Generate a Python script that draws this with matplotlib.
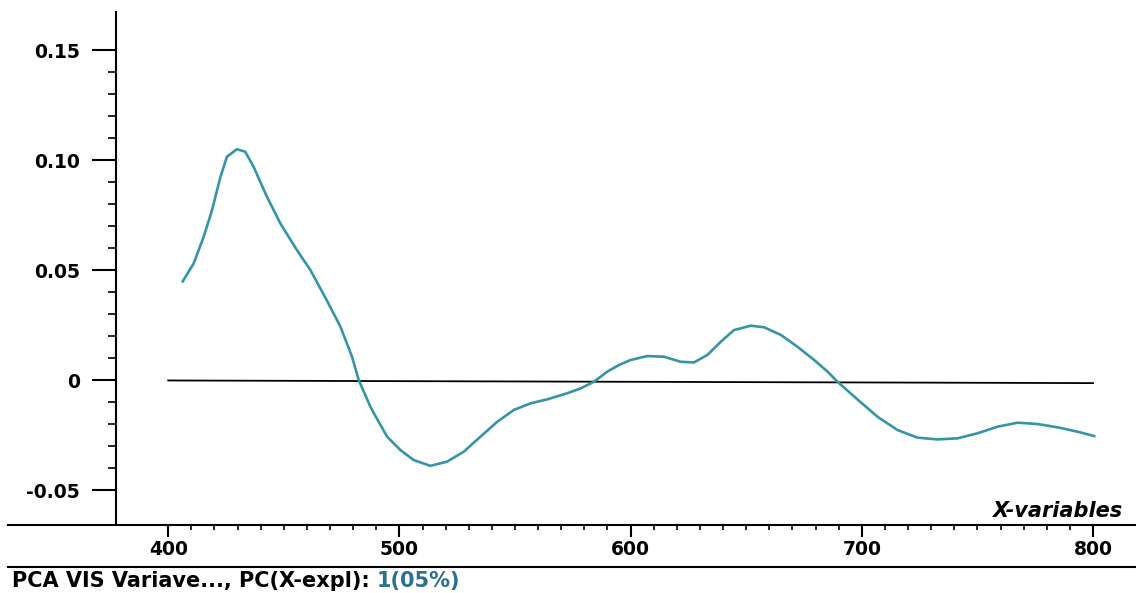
import matplotlib.pyplot as plt
from matplotlib.lines import Line2D
from matplotlib.ticker import FixedLocator

# Loading values (PC1 vs wavelength)
wavelength = [406.2, 411.0, 415.3, 418.9, 422.5, 425.4, 429.7, 433.3, 436.9, 442.7,
              448.5, 455.7, 461.5, 468.7, 474.5, 479.5, 482.4, 487.4, 488.9, 494.7,
              500.4, 506.2, 513.4, 520.6, 527.8, 535.0, 542.3, 549.5, 556.7, 563.9,
              572.6, 578.4, 584.1, 589.9, 594.9, 600.0, 607.2, 614.4, 621.6, 627.4,
              633.2, 639.0, 644.7, 652.0, 657.7, 665.0, 672.2, 679.4, 685.2, 689.5,
              698.1, 706.8, 715.4, 724.1, 732.8, 741.4, 750.1, 758.7, 767.4, 776.0,
              784.7, 793.4, 800.6]
loading = [0.0447, 0.053, 0.065, 0.077, 0.092, 0.1015, 0.1049, 0.1038, 0.097, 0.0833,
           0.0712, 0.059, 0.050, 0.036, 0.0242, 0.0106, 0.0, -0.0120, -0.015, -0.0258,
           -0.0318, -0.0364, -0.039, -0.0371, -0.0326, -0.0258, -0.019, -0.0136, -0.0106, -0.0088,
           -0.006, -0.0038, -0.0008, 0.0038, 0.0068, 0.0091, 0.0109, 0.0106, 0.0083, 0.008,
           0.0114, 0.0174, 0.0227, 0.0247, 0.024, 0.0205, 0.0151, 0.0091, 0.0038, -0.0008,
           -0.0088, -0.0167, -0.0227, -0.0262, -0.027, -0.0265, -0.0242, -0.0212, -0.0194, -0.020,
           -0.0215, -0.0235, -0.0255]

zero_x = [400, 800]
zero_y = [-0.0002, -0.0014]

y_major = [-0.05, 0.0, 0.05, 0.10, 0.15]
y_labels = ["-0.05", "0", "0.05", "0.10", "0.15"]
x_major = [400, 500, 600, 700, 800]
x_labels = ["400", "500", "600", "700", "800"]

caption = "PCA VIS Variave..., PC(X-expl): "
caption_pc = "1(05%)"

plt.rcParams["font.family"] = ["DejaVu Sans"]

W, H = 1136, 593
PX = 72 / 100  # points per pixel at dpi 100
fig = plt.figure(figsize=(W / 100, H / 100), dpi=100)
ax = fig.add_axes([8 / W, (H - 525) / H, 1128 / W, (525 - 12) / H])

ax.plot(zero_x, zero_y, color="black", lw=1.3)
ax.plot(wavelength, loading, color="#3594a8", lw=1.9, solid_capstyle="round",
        solid_joinstyle="round")

ax.set_xlim(330.7, 818.6)
ax.set_ylim(-0.0659, 0.1673)

for s in ["top", "right"]:
    ax.spines[s].set_visible(False)
ax.spines["left"].set_position(("data", 377.5))
ax.spines["left"].set_linewidth(1.5)
ax.spines["bottom"].set_linewidth(1.5)

ax.yaxis.set_major_locator(FixedLocator(y_major))
ax.set_yticklabels(y_labels)
ax.yaxis.set_minor_locator(FixedLocator([i / 100 for i in range(-5, 16)]))
ax.xaxis.set_major_locator(FixedLocator(x_major))
ax.set_xticklabels(x_labels)
ax.xaxis.set_minor_locator(FixedLocator(list(range(400, 801, 10))))

ax.tick_params(axis="y", which="major", length=24 * PX, width=1.5, pad=12 * PX, labelsize=13.5)
ax.tick_params(axis="y", which="minor", length=8 * PX, width=1.2)
ax.tick_params(axis="x", which="major", length=12 * PX, width=1.5, pad=3 * PX, labelsize=13.5)
ax.tick_params(axis="x", which="minor", length=5 * PX, width=1.2)
for lab in ax.get_xticklabels() + ax.get_yticklabels():
    lab.set_fontweight("bold")

fig.text(1122 / W, 1 - 511 / H, "X-variables", ha="right", va="center",
         fontsize=15, fontweight="bold", fontstyle="italic")

fig.add_artist(Line2D([8 / W, 1], [1 - 567 / H] * 2, color="black", lw=1.5))
t = fig.text(12 / W, 1 - 581 / H, caption, ha="left", va="center",
             fontsize=15, fontweight="bold")
ax.annotate(caption_pc, xy=(1, 0.5), xycoords=t, ha="left", va="center",
            fontsize=15, fontweight="bold", color="#2d6f8f", annotation_clip=False)

fig.savefig("out.png", dpi=100)
